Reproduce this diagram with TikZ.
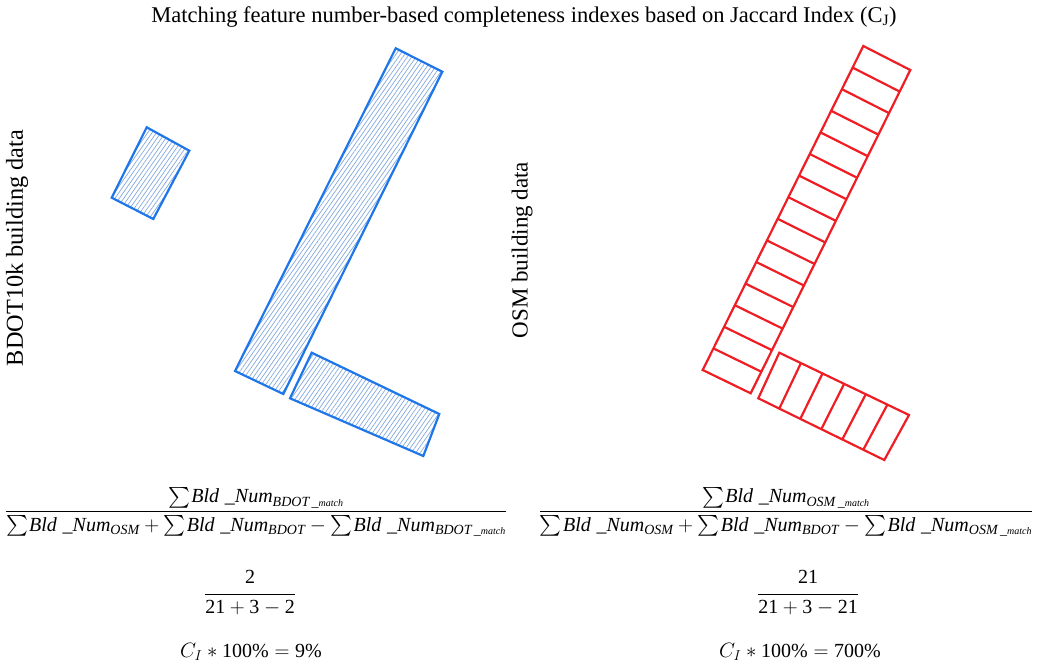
\documentclass[tikz,border=0pt]{standalone}
\usepackage{amsmath}
\usepackage{fontspec}
\setmainfont{Liberation Serif}
\usetikzlibrary{calc,patterns.meta}
\definecolor{bldblue}{RGB}{30,118,232}
\definecolor{hatchblue}{RGB}{130,168,222}
\definecolor{osmred}{RGB}{238,30,36}
\newcommand\bldnum{\mathit{Bld}\;\_\mathit{Num}}
\newcommand\matchsub[1]{\mathit{#1}\,\_{\scriptscriptstyle\mathit{match}}}
\newcommand\sumsep{\mskip-2mu}

\begin{document}
\begin{tikzpicture}[x=1pt,y=-1pt,
  bdot/.style={draw=bldblue, line width=2.2pt,
    pattern={Lines[angle=55,distance=3.6pt,line width=0.7pt]}, pattern color=hatchblue},
  osm/.style={draw=osmred, line width=2.2pt},
  lbl/.style={rotate=90},
  eq/.style={font=\fontsize{20}{24}\selectfont}]
  \useasboundingbox (0,0) rectangle (1039,670);
  \node[font=\fontsize{22.5}{26}\selectfont, anchor=base] (title) at (524,22)
    {Matching feature number-based completeness indexes based on Jaccard Index (C\textsubscript{J})};
  % side labels
  \node[lbl, font=\fontsize{24.3}{28}\selectfont] (lblbdot) at (17,248) {BDOT10k building data};
  \node[lbl, font=\fontsize{23}{27}\selectfont] (lblosm) at (522,250) {OSM building data};
  % BDOT buildings
  \draw[bdot] (146.7,127.3) -- (189.3,150.7) -- (153.3,219) -- (111.7,197.7) -- cycle;
  \draw[bdot] (395.7,48.3) -- (442.3,71.7) -- (283.3,394) -- (235,371) -- cycle;
  \draw[bdot] (311.7,352.7) -- (439.3,414) -- (423.3,456) -- (290,398.3) -- cycle;
  % OSM buildings
  \coordinate (rt) at (863.3,46);
  \coordinate (rr) at (910.3,70);
  \coordinate (rb) at (750.7,393.3);
  \coordinate (rl) at (702.7,370);
  \draw[osm] (rt) -- (rr) -- (rb) -- (rl) -- cycle;
  \foreach \i in {1,...,14}
    \draw[osm] ($(rt)!\i/15!(rl)$) -- ($(rr)!\i/15!(rb)$);
  \coordinate (st) at (779.3,352.7);
  \coordinate (sr) at (909,415);
  \coordinate (sb) at (884.3,460);
  \coordinate (sl) at (758.3,398.3);
  \draw[osm] (st) -- (sr) -- (sb) -- (sl) -- cycle;
  \foreach \j in {1,...,5}
    \draw[osm] ($(st)!\j/6!(sr)$) -- ($(sl)!\j/6!(sb)$);
  % formulas
  \node[eq] (fracbdot) at (256,513)
    {$\dfrac{\sum\sumsep \bldnum_{\matchsub{BDOT}}}{\sum\sumsep \bldnum_{\mathit{OSM}} + \sum\sumsep \bldnum_{\mathit{BDOT}} - \sum\sumsep \bldnum_{\matchsub{BDOT}}\strut}$};
  \node[eq] (fracosm) at (786,513)
    {$\dfrac{\sum\sumsep \bldnum_{\matchsub{OSM}}}{\sum\sumsep \bldnum_{\mathit{OSM}} + \sum\sumsep \bldnum_{\mathit{BDOT}} - \sum\sumsep \bldnum_{\matchsub{OSM}}\strut}$};
  \node[eq] (numbdot) at (250,594) {$\dfrac{\mathrm{2}\strut}{\mathrm{21}+\mathrm{3}-\mathrm{2}\strut}$};
  \node[eq] (numosm) at (808,594) {$\dfrac{\mathrm{21}\strut}{\mathrm{21}+\mathrm{3}-\mathrm{21}\strut}$};
  \node[eq, anchor=base] (resbdot) at (251,657) {$C_I \ast \mathrm{100\%} = \mathrm{9\%}$};
  \node[eq, anchor=base] (resosm) at (800,657) {$C_I \ast \mathrm{100\%} = \mathrm{700\%}$};
\end{tikzpicture}
\end{document}
